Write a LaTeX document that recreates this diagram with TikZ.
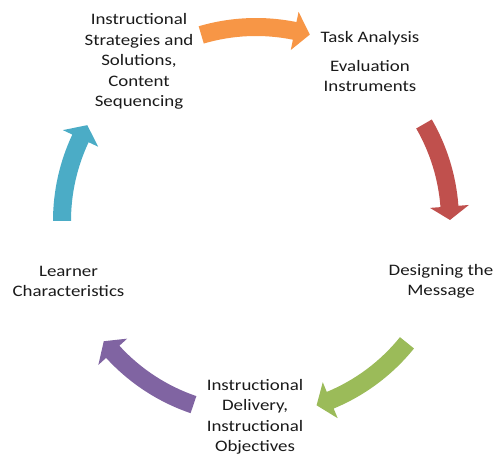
\documentclass[tikz,border=0pt]{standalone}
\usepackage{fontspec}
\setmainfont{Carlito}[FakeStretch=1.18]
\definecolor{aorange}{HTML}{F79646}
\definecolor{ared}{HTML}{C0504D}
\definecolor{agreen}{HTML}{9BBB59}
\definecolor{apurple}{HTML}{8064A2}
\definecolor{ablue}{HTML}{4BACC6}
\definecolor{txt}{HTML}{1A1A1A}
% color, tail angle, head-back angle, tip angle
\newcommand{\cycarrow}[4]{%
  \fill[#1] (#2:203pt) arc[start angle=#2, end angle=#3, radius=203pt]
    -- (#3:213.5pt) -- (#4:194pt) -- (#3:174.5pt) -- (#3:185pt)
    arc[start angle=#3, end angle=#2, radius=185pt] -- cycle;}
\begin{document}
\begin{tikzpicture}[x=1pt,y=1pt,
  lbl/.style={align=center, text=txt, inner sep=0pt,
    font=\fontsize{16}{20.5}\selectfont}]
\useasboundingbox (0,0) rectangle (498,465);
\begin{scope}[shift={(256,244)}]
  \coordinate (C) at (0,0);
  \cycarrow{ablue}{180}{154.8}{150.4}
  \cycarrow{aorange}{106.4}{78.5}{73.9}
  \cycarrow{ared}{30}{4.3}{0.3}
  \cycarrow{agreen}{-38.9}{-67.5}{-71.8}
  \cycarrow{apurple}{-108.8}{-137.6}{-141.7}
\end{scope}
\node[lbl] (strat) at (139,403.5) {Instructional\\Strategies and\\Solutions,\\Content\\Sequencing};
\node[lbl] (task) at (370,403.6) {Task Analysis\\[8.5pt]Evaluation\\Instruments};
\node[lbl] (design) at (441,183.8) {Designing the\\Message};
\node[lbl] (deliv) at (255,48.3) {Instructional\\Delivery,\\Instructional\\Objectives};
\node[lbl] (learn) at (68.5,183.8) {Learner\\Characteristics};
\end{tikzpicture}
\end{document}
